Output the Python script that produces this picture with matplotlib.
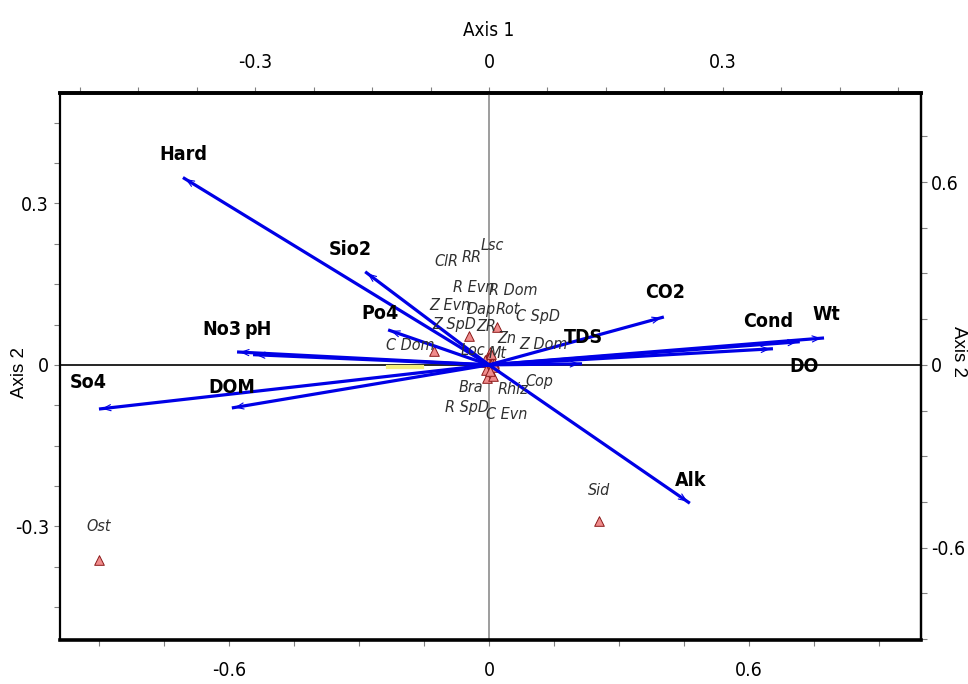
import matplotlib
matplotlib.use("Agg")
import matplotlib.pyplot as plt
from matplotlib.ticker import FixedLocator, MultipleLocator

# environmental variables (biplot arrows): axis-1 / axis-2 scores
env_names = ["Hard", "Sio2", "Po4", "No3", "pH", "So4", "DOM",
             "CO2", "TDS", "Alk", "Cond", "Wt", "DO"]
env_x = [-0.707, -0.286, -0.233, -0.582, -0.545, -0.901, -0.594,
         0.404, 0.215, 0.464, 0.656, 0.774, 0.718]
env_y = [0.348, 0.173, 0.065, 0.024, 0.019, -0.082, -0.080,
         0.089, 0.002, -0.257, 0.030, 0.050, 0.043]

# species scores
species_names = ["Ost", "Sid", "C Dom", "Z SpD", "ZR", "Loc", "Bra", "Rhiz",
                 "Lsc", "RR", "ClR", "R Evn", "R Dom", "Z Evn", "Dap",
                 "Rot", "C SpD", "Zn", "Z Dom", "Mt", "Cop", "R SpD", "C Evn"]
species_x = [-0.901, 0.254, -0.127, -0.046, 0.018, 0.002, -0.005, 0.009,
             0.002, -0.004, -0.008, -0.003, 0.004, -0.010, -0.002,
             0.006, 0.010, 0.008, 0.012, 0.004, 0.014, -0.006, 0.003]
species_y = [-0.362, -0.290, 0.026, 0.054, 0.071, 0.024, -0.024, -0.020,
             0.010, 0.008, 0.006, 0.012, 0.011, 0.009, 0.006,
             0.008, 0.007, 0.004, 0.003, 0.020, -0.004, -0.010, -0.012]

# label placement (pixels from the point), layout only
ENV_OFFSET = {"Hard": (0, 23), "Sio2": (-15, 22), "Po4": (-8, 16),
              "No3": (-15, 22), "pH": (5, 25), "So4": (-11, 27),
              "DOM": (0, 20), "CO2": (1, 24), "TDS": (1, 26),
              "Alk": (1, 23), "Cond": (-5, 27), "Wt": (2, 23),
              "DO": (4, -25)}
SP_OFFSET = {"Ost": (0, 33), "Sid": (0, 31), "C Dom": (-24, 5),
             "Z SpD": (-15, 11), "ZR": (-11, 0), "Loc": (-17, 1),
             "Bra": (-16, -10), "Rhiz": (20, -14), "Lsc": (2, 114),
             "RR": (-16, 103), "ClR": (-39, 100), "R Evn": (-14, 71),
             "R Dom": (23, 68), "Z Evn": (-35, 55), "Dap": (-7, 52),
             "Rot": (16, 51), "C SpD": (45, 45), "Zn": (14, 24),
             "Z Dom": (49, 19), "Mt": (7, 1), "Cop": (44, -14),
             "R SpD": (-19, -37), "C Evn": (16, -43)}

NARROW = dict(family="DejaVu Sans", fontstretch="condensed")
REGULAR = dict(family=["Liberation Sans", "DejaVu Sans"])
BLUE = "#0000e6"

fig = plt.figure(figsize=(9.68, 6.84), dpi=100)
ax = fig.add_axes([60 / 968, 1 - 640 / 684, 861 / 968, 547 / 684])
ax.set_xlim(-0.991, 0.998)
ax.set_ylim(-0.511, 0.505)

ax.axhline(0, color="black", lw=1.2, zorder=1)
ax.axvline(0, color="#8c8c8c", lw=1.2, zorder=1)

# small yellow mark on the axis-1 line
ax.plot([-0.233, -0.155], [-0.004, -0.004], color="#f5f07a", lw=3, zorder=1)

ax.scatter(species_x, species_y, marker="^", s=48, facecolor="#f08c8c",
           edgecolor="#8b1a1a", linewidths=0.7, zorder=2)

for name, x, y in zip(env_names, env_x, env_y):
    ax.plot([0, x], [0, y], color=BLUE, lw=2.3, solid_capstyle="butt",
            zorder=3)
    ax.annotate("", xy=(x, y), xytext=(x * 0.9, y * 0.9),
                arrowprops=dict(arrowstyle="->,head_length=0.55,head_width=0.22",
                                color=BLUE, lw=0.8), zorder=3)
    ax.annotate(name, xy=(x, y), xytext=ENV_OFFSET[name],
                textcoords="offset pixels", ha="center", va="center",
                fontsize=14, fontweight="bold", zorder=5, **NARROW)

for name, x, y in zip(species_names, species_x, species_y):
    ax.annotate(name, xy=(x, y), xytext=SP_OFFSET[name],
                textcoords="offset pixels", ha="center", va="center",
                fontsize=11.5, fontstyle="italic", color="#303030",
                zorder=4, **NARROW)

# bottom / left axes
ax.xaxis.set_major_locator(FixedLocator([-0.6, 0, 0.6]))
ax.xaxis.set_minor_locator(MultipleLocator(0.15))
ax.yaxis.set_major_locator(FixedLocator([-0.3, 0, 0.3]))
ax.yaxis.set_minor_locator(MultipleLocator(0.075))
ax.set_xticklabels(["-0.6", "0", "0.6"])
ax.set_yticklabels(["-0.3", "0", "0.3"])

# top / right axes use the other scaling
top = ax.secondary_xaxis("top", functions=(lambda v: v / 1.80,
                                           lambda v: v * 1.80))
top.xaxis.set_major_locator(FixedLocator([-0.3, 0, 0.3]))
top.xaxis.set_minor_locator(MultipleLocator(0.075))
top.set_xticklabels(["-0.3", "0", "0.3"])
right = ax.secondary_yaxis("right", functions=(lambda v: v * 1.767,
                                               lambda v: v / 1.767))
right.yaxis.set_major_locator(FixedLocator([-0.6, 0, 0.6]))
right.yaxis.set_minor_locator(MultipleLocator(0.15))
right.set_yticklabels(["-0.6", "0", "0.6"])

for a in (ax, top, right):
    a.tick_params(which="both", direction="out", color="#808080",
                  length=4, width=0.8)
    for lab in a.get_xticklabels() + a.get_yticklabels():
        lab.set_family(NARROW["family"])
        lab.set_stretch(NARROW["fontstretch"])
        lab.set_fontsize(14)
ax.tick_params(axis="x", pad=11)
top.tick_params(axis="x", pad=11)
ax.tick_params(axis="y", pad=4)
right.tick_params(axis="y", pad=3)

for side in ("top", "bottom"):
    ax.spines[side].set_linewidth(2.6)
for side in ("left", "right"):
    ax.spines[side].set_linewidth(1.6)
top.spines["top"].set_linewidth(2.6)
right.spines["right"].set_linewidth(1.6)

fig.text(489 / 968, 1 - 30 / 684, "Axis 1", ha="center", va="center",
         fontsize=13.5, **NARROW)
fig.text(20 / 968, 1 - 373 / 684, "Axis 2", ha="center", va="center",
         rotation=90, fontsize=13.5, **REGULAR)
fig.text(958 / 968, 1 - 352 / 684, "Axis 2", ha="center", va="center",
         rotation=-90, fontsize=13.5, **REGULAR)

fig.savefig("out.png", dpi=100)
